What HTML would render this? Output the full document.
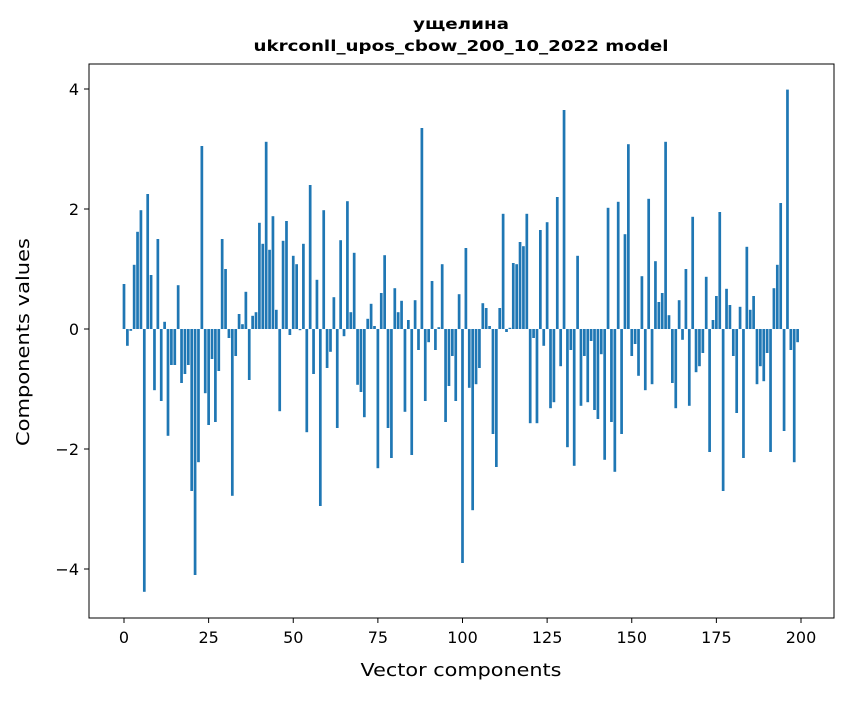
<!DOCTYPE html>
<html><head><meta charset="utf-8"><style>
html,body{margin:0;padding:0;background:#fff;}
svg text{font-family:"DejaVu Sans","Liberation Sans",sans-serif;fill:#000;}
</style></head><body>
<svg id="chart" width="847" height="696" xmlns="http://www.w3.org/2000/svg">
<rect width="847" height="696" fill="#fff"/>
<text x="461" y="29" font-size="15" font-weight="bold" text-anchor="middle" textLength="96" lengthAdjust="spacingAndGlyphs">ущелина</text>
<text x="461" y="51" font-size="15" font-weight="bold" text-anchor="middle" textLength="415" lengthAdjust="spacingAndGlyphs">ukrconll_upos_cbow_200_10_2022 model</text>
<g id="bars"></g>
<g id="xticks"></g>
<g id="yticks"></g>
<rect x="89" y="64" width="745" height="554" fill="none" stroke="#000" stroke-width="1"/>
<text x="461" y="676" font-size="18" text-anchor="middle" textLength="201" lengthAdjust="spacingAndGlyphs">Vector components</text>
<text transform="translate(29,342) rotate(-90)" font-size="18" text-anchor="middle" textLength="208" lengthAdjust="spacingAndGlyphs">Components values</text>
</svg>
<script>
const values = [0.75,-0.28,-0.03,1.07,1.62,1.98,-4.38,2.25,0.9,-1.02,1.5,-1.2,0.12,-1.78,-0.6,-0.6,0.73,-0.9,-0.75,-0.6,
-2.7,-4.1,-2.22,3.05,-1.07,-1.6,-0.5,-1.55,-0.7,1.5,1.0,-0.15,-2.78,-0.45,0.25,0.08,0.62,-0.85,0.22,0.28,
1.77,1.42,3.12,1.32,1.88,0.32,-1.37,1.47,1.8,-0.1,1.22,1.08,-0.02,1.42,-1.72,2.4,-0.75,0.82,-2.95,1.98,
-0.65,-0.38,0.53,-1.65,1.48,-0.12,2.13,0.28,1.27,-0.93,-1.05,-1.47,0.17,0.42,0.05,-2.32,0.6,1.23,-1.65,-2.15,
0.68,0.28,0.47,-1.38,0.15,-2.1,0.48,-0.35,3.35,-1.2,-0.22,0.8,-0.35,0.03,1.08,-1.55,-0.95,-0.45,-1.2,0.58,
-3.9,1.35,-0.98,-3.02,-0.92,-0.65,0.43,0.35,0.05,-1.75,-2.3,0.35,1.92,-0.05,0.02,1.1,1.08,1.45,1.38,1.92,
-1.57,-0.15,-1.57,1.65,-0.28,1.78,-1.32,-1.22,2.2,-0.62,3.65,-1.97,-0.35,-2.28,1.22,-1.28,-0.45,-1.22,-0.2,-1.35,
-1.5,-0.42,-2.18,2.02,-1.55,-2.38,2.12,-1.75,1.58,3.08,-0.45,-0.25,-0.78,0.88,-1.02,2.17,-0.92,1.13,0.45,0.6,
3.12,0.23,-0.9,-1.32,0.48,-0.18,1.0,-1.28,1.87,-0.72,-0.62,-0.4,0.87,-2.05,0.15,0.55,1.95,-2.7,0.67,0.4,
-0.45,-1.4,0.37,-2.15,1.37,0.32,0.55,-0.92,-0.62,-0.87,-0.4,-2.05,0.68,1.07,2.1,-1.7,3.99,-0.35,-2.22,-0.22];
const xTicks = [0,25,50,75,100,125,150,175,200];
const yTicks = [-4,-2,0,2,4];
const NS='http://www.w3.org/2000/svg';
function xs(v){return 124 + v*(801-124)/200;}
function ys(v){return 329 - v*60;}
const bw = 0.8*(801-124)/200;
const gb=document.getElementById('bars');
values.forEach((v,i)=>{
  const r=document.createElementNS(NS,'rect');
  
  
  const y0=ys(0), y1=ys(v);
  r.setAttribute('x',xs(i)-bw/2);
  r.setAttribute('width',bw);
  r.setAttribute('y',Math.min(y0,y1));
  r.setAttribute('height',Math.abs(y1-y0));
  r.setAttribute('fill','#1f77b4');
  gb.appendChild(r);
});
const gx=document.getElementById('xticks');
xTicks.forEach(t=>{
  const l=document.createElementNS(NS,'line');
  
  
  l.setAttribute('x1',xs(t));l.setAttribute('x2',xs(t));
  l.setAttribute('y1',618);l.setAttribute('y2',623);
  l.setAttribute('stroke','#000');
  gx.appendChild(l);
  const tx=document.createElementNS(NS,'text');
  
  
  tx.setAttribute('x',xs(t));tx.setAttribute('y',643);
  tx.setAttribute('font-size','16');tx.setAttribute('text-anchor','middle');
  tx.textContent=t;
  gx.appendChild(tx);
});
const gy=document.getElementById('yticks');
yTicks.forEach(t=>{
  const l=document.createElementNS(NS,'line');
  
  
  l.setAttribute('x1',84);l.setAttribute('x2',89);
  l.setAttribute('y1',ys(t));l.setAttribute('y2',ys(t));
  l.setAttribute('stroke','#000');
  gy.appendChild(l);
  const tx=document.createElementNS(NS,'text');
  
  
  tx.setAttribute('x',79);tx.setAttribute('y',ys(t)+6);
  tx.setAttribute('font-size','16');tx.setAttribute('text-anchor','end');
  tx.textContent=t<0?'\u2212'+Math.abs(t):t;
  gy.appendChild(tx);
});
</script>
</body></html>
